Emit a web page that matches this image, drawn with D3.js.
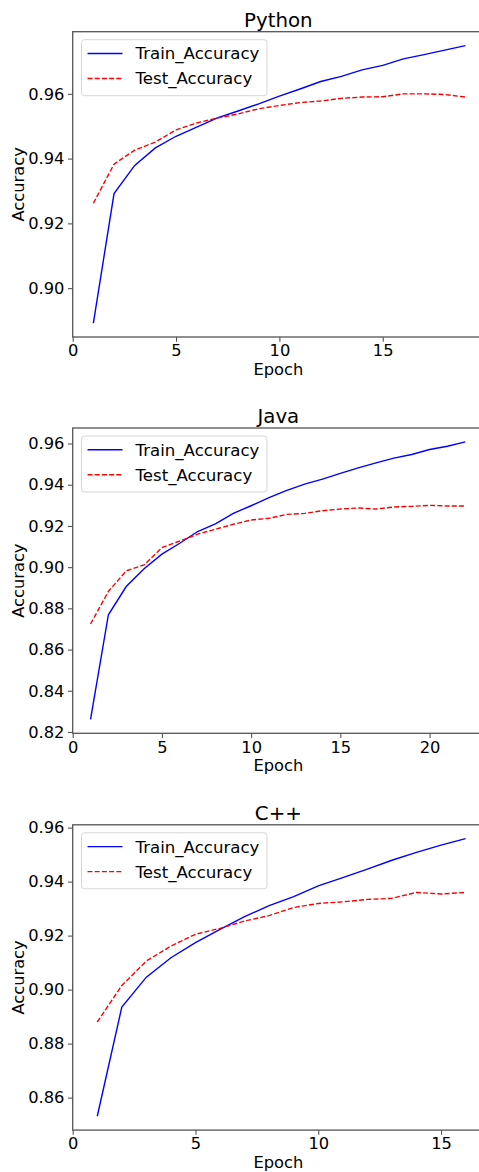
<!DOCTYPE html>
<html>
<head>
<meta charset="utf-8">
<script src="https://cdn.jsdelivr.net/npm/d3@7"></script>
<style>
  body { margin: 0; background: #fff; }
  svg { display: block; font-family: "DejaVu Sans", sans-serif; }
</style>
</head>
<body>
<svg id="chart" width="479" height="1172"></svg>
<script>
// values
const pythonTrain = [0.8892, 0.9292, 0.9379, 0.9433, 0.9469, 0.9497, 0.9526, 0.9547, 0.9569, 0.9593,
  0.9615, 0.9638, 0.9654, 0.9674, 0.9688, 0.9708, 0.9721, 0.9735, 0.9749];
const pythonTest = [0.9262, 0.9383, 0.9426, 0.9451, 0.9489, 0.9510, 0.9525, 0.9538, 0.9554, 0.9564,
  0.9573, 0.9578, 0.9586, 0.9590, 0.9591, 0.9600, 0.9600, 0.9598, 0.9590];

const javaTrain = [0.8261, 0.8769, 0.8906, 0.8992, 0.9063, 0.9116, 0.9173, 0.9210, 0.9261, 0.9298, 0.9337,
  0.9373, 0.9403, 0.9427, 0.9455, 0.9482, 0.9506, 0.9529, 0.9547, 0.9571, 0.9587, 0.9608];
const javaTest = [0.8724, 0.8882, 0.8982, 0.9011, 0.9095, 0.9127, 0.9160, 0.9184, 0.9208, 0.9229, 0.9237,
  0.9256, 0.9261, 0.9274, 0.9282, 0.9287, 0.9282, 0.9292, 0.9295, 0.9300, 0.9297, 0.9297];

const cppTrain = [0.8531, 0.8935, 0.9046, 0.9118, 0.9174, 0.9223, 0.9270, 0.9311, 0.9344, 0.9384,
  0.9415, 0.9446, 0.9479, 0.9508, 0.9535, 0.9559];
const cppTest = [0.8880, 0.9015, 0.9106, 0.9161, 0.9205, 0.9227, 0.9254, 0.9274, 0.9304, 0.9319,
  0.9325, 0.9334, 0.9338, 0.9360, 0.9354, 0.9360];

const titles = ["Python", "Java", "C++"];
const seriesNames = ["Train_Accuracy", "Test_Accuracy"];
const xTickStep = 5;
const yTickStep = 0.02;

const panels = [
  { title: titles[0], train: pythonTrain, test: pythonTest, top: 31.7 },
  { title: titles[1], train: javaTrain, test: javaTest, top: 428 },
  { title: titles[2], train: cppTrain, test: cppTest, top: 824.8 }
];

const svg = d3.select("#chart");
const left = 72.7, right = 484, plotH = 305.3;
const axisColor = "#555";
const fs = 16.3;

panels.forEach(p => {
  const g = svg.append("g").attr("transform", `translate(0,${p.top})`);
  const n = p.train.length;
  const all = p.train.concat(p.test);
  const lo = d3.min(all), hi = d3.max(all), pad = (hi - lo) * 0.05;

  const x = d3.scaleLinear().domain([0, n + (n - 1) * 0.05]).range([left, right]);
  const y = d3.scaleLinear().domain([lo - pad, hi + pad]).range([plotH, 0]);

  const xTicks = d3.range(0, n + 1, xTickStep);
  const yStart = Math.ceil((lo - pad) / yTickStep - 1e-6) * yTickStep;
  const yTicks = d3.range(yStart, hi + pad, yTickStep).map(v => +v.toFixed(2));

  const xAxis = g.append("g").attr("transform", `translate(0,${plotH})`)
    .call(d3.axisBottom(x).tickValues(xTicks).tickFormat(d3.format("d")).tickSize(4.75).tickPadding(3));
  const yAxis = g.append("g").attr("transform", `translate(${left},0)`)
    .call(d3.axisLeft(y).tickValues(yTicks).tickFormat(d3.format(".2f")).tickSize(4.75).tickPadding(3.5));

  [xAxis, yAxis].forEach(a => {
    a.select(".domain").remove();
    a.selectAll(".tick line").attr("stroke", axisColor).attr("stroke-width", 1.1);
    a.selectAll(".tick text").attr("fill", "#000").style("font-size", fs + "px")
      .style("font-family", "DejaVu Sans");
  });

  // spines
  g.append("rect")
    .attr("x", left).attr("y", 0).attr("width", right - left).attr("height", plotH)
    .attr("fill", "none").attr("stroke", axisColor).attr("stroke-width", 1.3);

  const line = d3.line().x((d, i) => x(i + 1)).y(d => y(d));

  g.append("path").datum(p.train).attr("d", line)
    .attr("fill", "none").attr("stroke", "blue").attr("stroke-width", 1.4);
  g.append("path").datum(p.test).attr("d", line)
    .attr("fill", "none").attr("stroke", "red").attr("stroke-width", 1.4)
    .attr("stroke-dasharray", "5,2.2");

  // title and axis labels
  g.append("text").attr("x", (left + right) / 2).attr("y", -5)
    .attr("text-anchor", "middle").style("font-size", "19.8px").text(p.title);
  g.append("text").attr("x", (left + right) / 2).attr("y", plotH + 37.8)
    .attr("text-anchor", "middle").style("font-size", fs + "px").text("Epoch");
  g.append("text")
    .attr("transform", `translate(18,${plotH / 2}) rotate(-90)`)
    .attr("dy", "0.35em").attr("text-anchor", "middle")
    .style("font-size", fs + "px").text("Accuracy");

  // legend
  const lg = g.append("g").attr("transform", `translate(81.5,8)`);
  lg.append("rect").attr("width", 185.5).attr("height", 56).attr("rx", 3)
    .attr("fill", "#fff").attr("fill-opacity", 0.8)
    .attr("stroke", "#d6d6d6").attr("stroke-width", 1);
  seriesNames.forEach((name, i) => {
    const yy = 13.8 + i * 25;
    lg.append("line").attr("x1", 6).attr("x2", 41).attr("y1", yy).attr("y2", yy)
      .attr("stroke", i === 0 ? "blue" : "red").attr("stroke-width", 1.4)
      .attr("stroke-dasharray", i === 0 ? null : "5,2.2");
    lg.append("text").attr("x", 54).attr("y", yy).attr("dy", "0.36em")
      .style("font-size", "16.6px").text(name);
  });
});
</script>
</body>
</html>
